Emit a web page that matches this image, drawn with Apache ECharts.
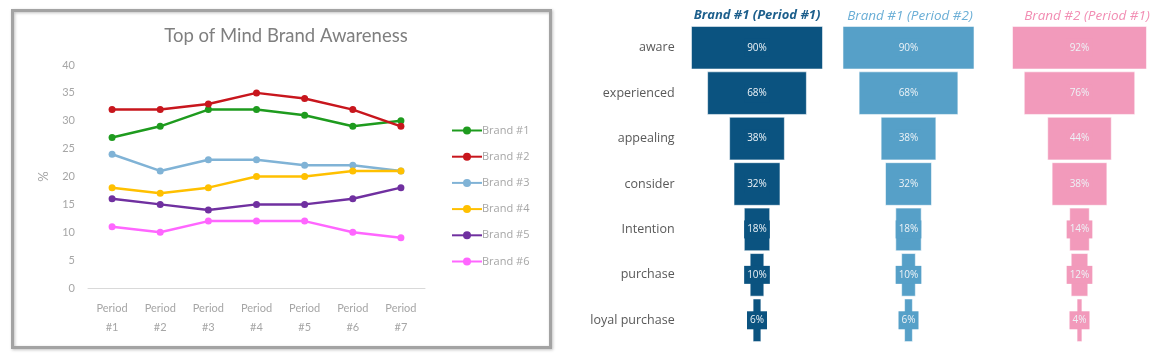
<!DOCTYPE html>
<html>
<head>
<meta charset="utf-8">
<script src="https://cdn.jsdelivr.net/npm/echarts@6/dist/echarts.min.js"></script>
<style>html,body{margin:0;padding:0;background:#fff}#c{width:1172px;height:355px}</style>
</head>
<body>
<div id="c"></div>
<script>
// ---- data ----
const periods = ['Period #1','Period #2','Period #3','Period #4','Period #5','Period #6','Period #7'];
const brandNames = ['Brand #1','Brand #2','Brand #3','Brand #4','Brand #5','Brand #6'];
const brand1 = [27, 29, 32, 32, 31, 29, 30];
const brand2 = [32, 32, 33, 35, 34, 32, 29];
const brand3 = [24, 21, 23, 23, 22, 22, 21];
const brand4 = [18, 17, 18, 20, 20, 21, 21];
const brand5 = [16, 15, 14, 15, 15, 16, 18];
const brand6 = [11, 10, 12, 12, 12, 10, 9];
const stages = ['aware','experienced','appealing','consider','Intention','purchase','loyal purchase'];
const funnelTitles = ['Brand #1 (Period #1)','Brand #1 (Period #2)','Brand #2 (Period #1)'];
const funnelB1P1 = [90, 68, 38, 32, 18, 10, 6];
const funnelB1P2 = [90, 68, 38, 32, 18, 10, 6];
const funnelB2P1 = [92, 76, 44, 38, 14, 12, 4];

// ---- styles ----
const FONT = 'Lato, "Open Sans", sans-serif';
const FONT2 = '"Open Sans", Lato, sans-serif';
const lineColors = ['#1e9b1e','#c8161d','#80b3d6','#ffc000','#7030a0','#ff66ff'];
const funnelColors = ['#0b5380','#56a0c8','#f29abb'];
const titleColors = ['#1d5f8c','#6aaed6','#f28db3'];
const funnelCenters = [757, 908.5, 1079.5];
const titleCenters = [752, 905, 1082];
const funnelScale = 1.467; // px per percent
const gridW = 100 * funnelScale;

const lineData = [brand1, brand2, brand3, brand4, brand5, brand6];
const funnels = [funnelB1P1, funnelB1P2, funnelB2P1];

const grids = [{left: 88, top: 65, width: 337, height: 223}];
const xAxes = [{
  type: 'category', gridIndex: 0, data: periods, boundaryGap: true,
  axisLine: {lineStyle: {color: '#d9d9d9', width: 1}}, axisTick: {show: false},
  axisLabel: {color: '#a6a6a6', fontSize: 11, fontFamily: FONT, lineHeight: 19, margin: 11,
    formatter: v => v.replace(' ', '\n')}
}];
const yAxes = [{
  type: 'value', gridIndex: 0, min: 0, max: 40, interval: 5,
  name: '%', nameLocation: 'middle', nameGap: 38, nameRotate: 90,
  nameTextStyle: {color: '#a6a6a6', fontSize: 13, fontFamily: FONT},
  axisLine: {show: false}, axisTick: {show: false}, splitLine: {show: false},
  axisLabel: {color: '#a6a6a6', fontSize: 11, fontFamily: FONT, margin: 13}
}];
const series = lineData.map((d, i) => ({
  type: 'line', name: brandNames[i], xAxisIndex: 0, yAxisIndex: 0, data: d,
  symbol: 'circle', symbolSize: 7, color: lineColors[i],
  lineStyle: {width: 2.5, color: lineColors[i]}, itemStyle: {color: lineColors[i]}
}));

const titles = [{
  text: 'Top of Mind Brand Awareness', left: 281, top: 22, textAlign: 'center',
  textStyle: {color: '#7f7f7f', fontSize: 18.5, fontWeight: 'normal', fontFamily: FONT}
}];

funnels.forEach((vals, k) => {
  const gi = k + 1;
  grids.push({left: funnelCenters[k] - gridW / 2, top: 25, width: gridW, bottom: 12});
  xAxes.push({type: 'value', gridIndex: gi, min: 0, max: 100, show: false});
  yAxes.push({
    type: 'category', gridIndex: gi, data: stages, inverse: true,
    axisLine: {show: false}, axisTick: {show: false}, splitLine: {show: false},
    axisLabel: {show: k === 0, color: '#595959', fontSize: 12.5, fontFamily: FONT2, margin: 9}
  });
  series.push({
    type: 'bar', xAxisIndex: gi, yAxisIndex: gi, stack: 'f' + k, silent: true,
    data: vals.map(v => (100 - v) / 2), barCategoryGap: '4%',
    itemStyle: {color: 'rgba(0,0,0,0)', borderWidth: 0}
  });
  series.push({
    type: 'bar', xAxisIndex: gi, yAxisIndex: gi, stack: 'f' + k,
    data: vals, barCategoryGap: '4%',
    itemStyle: {color: funnelColors[k], borderColor: 'rgba(255,255,255,0.55)', borderWidth: 1},
    label: {
      show: true, position: 'inside', formatter: '{c}%', color: '#edf3f7',
      fontSize: 10, fontFamily: FONT2, backgroundColor: funnelColors[k],
      padding: [4, 3, 4, 3]
    }
  });
  titles.push({
    text: funnelTitles[k], left: titleCenters[k], top: 4, textAlign: 'center',
    textStyle: {color: titleColors[k], fontSize: k === 0 ? 13 : 13.5, fontStyle: 'italic',
      fontWeight: k === 0 ? 'bold' : 'normal', fontFamily: FONT2}
  });
});

const chart = echarts.init(document.getElementById('c'), null, {renderer: 'canvas'});
chart.setOption({
  animation: false,
  backgroundColor: '#fff',
  title: titles,
  legend: {
    orient: 'vertical', left: 446, top: 120, itemWidth: 30, itemHeight: 10, itemGap: 15.2,
    data: brandNames,
    textStyle: {color: '#a6a6a6', fontSize: 11, fontFamily: FONT2, padding: [0, 0, 0, -5]}
  },
  graphic: [{
    type: 'rect', left: 10, top: 8, z: -1,
    shape: {width: 538, height: 337},
    style: {fill: 'none', stroke: '#a3a3a3', lineWidth: 3,
      shadowBlur: 3, shadowColor: 'rgba(0,0,0,0.25)', shadowOffsetX: 1, shadowOffsetY: 1}
  }],
  grid: grids,
  xAxis: xAxes,
  yAxis: yAxes,
  series: series
});
</script>
</body>
</html>
